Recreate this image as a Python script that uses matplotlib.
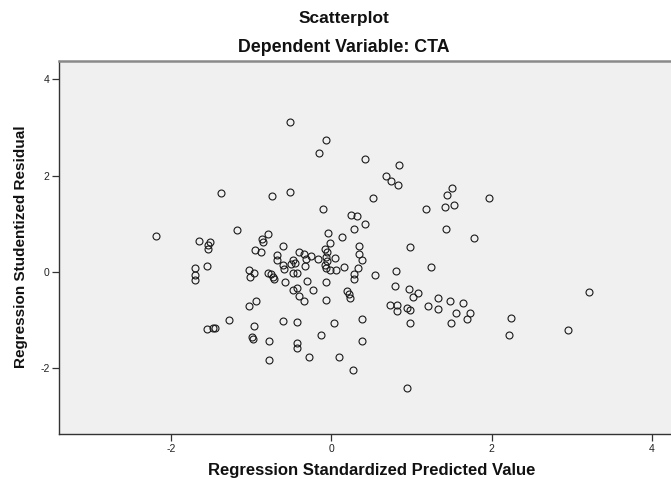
import matplotlib
matplotlib.use("Agg")
import matplotlib.pyplot as plt

plt.rcParams['font.family'] = ['Liberation Sans', 'DejaVu Sans']

# Regression standardized predicted value (x) and studentized residual (y)
x_pred = [
    -0.51, -0.06, -0.15, 0.42, 0.85, 0.69, 0.75, 0.83, -1.37, -0.74, -0.51, 0.52,
    -0.10, 0.25, 0.32, 0.42, 0.29, -2.19, -1.65, -1.54, -1.51, -1.54, -1.18, -0.86,
    -0.85, -0.79, -0.60, -0.04, -0.02, 0.14, 0.35, 0.98, -0.95, -0.87, 1.51, 1.45,
    1.97, 1.18, 1.42, 1.53, 1.43, 1.78,
    -0.68, -0.68, -0.60, -0.59, -0.47, -0.45, -0.50, -0.40, -0.34, -0.31, -0.25, -0.32,
    -0.47, -0.42, -0.17, -0.08, -0.05, -0.07, -0.05, -0.08, -0.06, -0.02, 0.05, 0.06,
    0.16, 0.35, 0.38, 0.33, 0.28, 0.28, 0.55, 0.81, 0.79, -1.70, -1.70, -1.70,
    -1.55, -1.03, -0.96, -1.01, -0.79, -0.75, -0.73, -0.71, -0.58, -0.30, -0.07, -0.48,
    -0.42, -0.23, -0.40, -0.34, -0.06, 0.20, 0.22, 0.23, -0.94, -1.03,
    -1.28, -1.55, -1.47, -1.45, -0.96, -0.99, -0.97, -0.78, -0.78, -0.60, -0.42, -0.43,
    -0.43, -0.28, -0.13, 0.03, 0.10, 0.27, 0.39, 0.39, 0.74, 0.82, 0.82, 0.94,
    0.98, 0.98, 0.94,
    1.25, 0.97, 1.08, 1.02, 1.33, 1.48, 1.65, 1.21, 1.33, 1.56, 1.73, 1.70,
    1.50, 2.24, 2.22, 2.95, 3.22,
]
y_resid = [
    3.12, 2.75, 2.48, 2.35, 2.22, 2.00, 1.88, 1.81, 1.64, 1.58, 1.66, 1.53,
    1.31, 1.19, 1.17, 1.00, 0.90, 0.75, 0.65, 0.57, 0.62, 0.47, 0.88, 0.68,
    0.62, 0.78, 0.55, 0.82, 0.61, 0.72, 0.55, 0.52, 0.46, 0.41, 1.74, 1.59,
    1.53, 1.30, 1.35, 1.39, 0.90, 0.71,
    0.36, 0.25, 0.14, 0.07, 0.26, 0.19, 0.16, 0.41, 0.37, 0.28, 0.33, 0.12,
    -0.01, -0.01, 0.28, 0.47, 0.42, 0.32, 0.24, 0.14, 0.09, 0.05, 0.30, 0.05,
    0.10, 0.37, 0.26, 0.08, -0.05, -0.14, -0.07, 0.02, -0.29, 0.08, -0.07, -0.17,
    0.12, 0.04, -0.01, -0.11, -0.01, -0.05, -0.10, -0.14, -0.20, -0.19, -0.21, -0.37,
    -0.33, -0.37, -0.49, -0.60, -0.57, -0.39, -0.45, -0.54, -0.60, -0.71,
    -1.00, -1.19, -1.16, -1.16, -1.11, -1.35, -1.38, -1.44, -1.82, -1.01, -1.03, -1.48,
    -1.57, -1.76, -1.30, -1.06, -1.77, -2.04, -0.98, -1.42, -0.69, -0.69, -0.81, -0.74,
    -0.79, -1.05, -2.40,
    0.11, -0.36, -0.44, -0.51, -0.53, -0.60, -0.65, -0.70, -0.76, -0.84, -0.85, -0.97,
    -1.05, -0.96, -1.30, -1.21, -0.42,
]

x_ticks = [-2, 0, 2, 4]
y_ticks = [-2, 0, 2, 4]
title_main = "Scatterplot"
title_sub = "Dependent Variable: CTA"
x_label = "Regression Standardized Predicted Value"
y_label = "Regression Studentized Residual"

W, H = 671, 479
fig = plt.figure(figsize=(W / 100, H / 100), dpi=100)
left, right, top, bottom = 59.3, 684, 61, 434
ax = fig.add_axes([left / W, 1 - bottom / H, (right - left) / W, (bottom - top) / H])
ax.set_facecolor('#f0f0f0')

ax.plot(x_pred, y_resid, linestyle='none', marker='o', markersize=5.0,
        markerfacecolor='none', markeredgecolor='#1a1a1a', markeredgewidth=0.8)

ax.set_xlim(-3.39, 4.40)
ax.set_ylim(-3.36, 4.38)
ax.set_xticks(x_ticks)
ax.set_yticks(y_ticks)
ax.set_xticklabels([str(t) for t in x_ticks])
ax.set_yticklabels([str(t) for t in y_ticks])
ax.tick_params(direction='out', length=5, width=0.9, color='#333333',
               labelsize=7.5, labelcolor='#222222', pad=2)

for s in ['left', 'bottom']:
    ax.spines[s].set_color('#333333')
    ax.spines[s].set_linewidth(1.0)
ax.spines['top'].set_color('#8a8a8a')
ax.spines['top'].set_linewidth(1.8)
ax.spines['right'].set_visible(False)

fig.text(0.513, 1 - 19 / H, title_main, ha='center', va='center',
         fontsize=12.5, fontweight='bold', color='#111111')
fig.text(0.513, 1 - 48 / H, title_sub, ha='center', va='center',
         fontsize=12.8, fontweight='bold', color='#111111')
fig.text(371.5 / W, 1 - 471 / H, x_label, ha='center', va='center',
         fontsize=12, fontweight='bold', color='#111111')
fig.text(21 / W, 1 - 247 / H, y_label, ha='center', va='center', rotation=90,
         fontsize=11, fontweight='bold', color='#111111')

fig.savefig('out.png', dpi=100)
